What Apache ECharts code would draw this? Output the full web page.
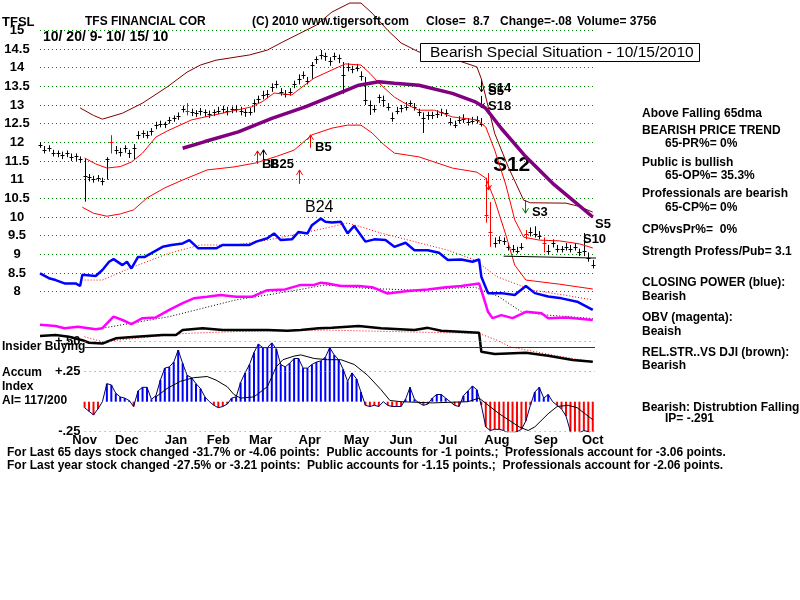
<!DOCTYPE html>
<html lang="en">
<head>
<meta charset="UTF-8">
<title>TFSL</title>
<script src="https://cdn.jsdelivr.net/npm/echarts@6/dist/echarts.min.js"></script>
<style>
  html, body { margin: 0; padding: 0; background: #fff; }
  #container { width: 800px; height: 600px; }
</style>
</head>
<body>
<div id="container"></div>
<script>
// x = trading day index, 0 = 10/20/2009 ... 249 = 10/15/2010
// price bars sampled every 2nd trading day (d = 0, 2, 4 ... 248)
var closes = [
  11.93, 11.80, 11.85, 11.72, 11.70, 11.65, 11.70, 11.60, 11.62, 11.55,
  11.10, 11.08, 11.02, 11.05, 10.95, 11.55, 12.00, 11.80, 11.75, 11.85,
  11.70, 11.85, 12.20, 12.25, 12.20, 12.30, 12.45, 12.50, 12.48, 12.60,
  12.65, 12.70, 12.90, 12.85, 12.80, 12.78, 12.85, 12.80, 12.75, 12.80,
  12.85, 12.90, 12.85, 12.88, 12.90, 12.85, 12.80, 12.82, 13.05, 13.15,
  13.27, 13.30, 13.48, 13.55, 13.35, 13.30, 13.35, 13.55, 13.70, 13.80,
  13.65, 14.07, 14.22, 14.35, 14.30, 14.18, 14.32, 14.25, 13.80, 14.02,
  13.95, 14.00, 13.78, 13.13, 13.00, 12.90, 13.20, 13.12, 12.95, 12.65,
  12.85, 12.92, 12.95, 13.05, 12.95, 12.80, 12.65, 12.72, 12.73, 12.76,
  12.80, 12.78, 12.55, 12.46, 12.60, 12.62, 12.55, 12.58, 12.60, 12.50,
  10.05, 9.60, 9.30, 9.38, 9.35, 9.20, 9.15, 9.10, 9.20, 9.55,
  9.60, 9.55, 9.50, 9.30, 9.10, 9.30, 9.15, 9.15, 9.20, 9.15,
  9.20, 9.05, 9.10, 8.90, 8.70
];
var highs = [
  12.00, 11.90, 11.92, 11.80, 11.78, 11.75, 11.78, 11.70, 11.70, 11.62,
  11.55, 11.15, 11.10, 11.12, 11.05, 11.60, 12.19, 11.90, 11.85, 11.92,
  11.80, 11.95, 12.30, 12.32, 12.30, 12.38, 12.55, 12.58, 12.55, 12.68,
  12.72, 12.80, 12.98, 13.05, 12.90, 12.86, 12.92, 12.88, 12.85, 12.88,
  12.95, 12.98, 12.95, 12.96, 13.00, 12.95, 12.90, 12.92, 13.15, 13.25,
  13.38, 13.40, 13.58, 13.65, 13.45, 13.40, 13.45, 13.65, 13.82, 13.90,
  13.75, 14.15, 14.30, 14.47, 14.40, 14.28, 14.40, 14.35, 14.15, 14.12,
  14.05, 14.10, 13.90, 13.75, 13.12, 13.00, 13.28, 13.25, 13.05, 12.80,
  12.95, 13.00, 13.08, 13.12, 13.05, 12.90, 12.80, 12.82, 12.82, 12.86,
  12.90, 12.88, 12.65, 12.58, 12.70, 12.75, 12.65, 12.68, 12.70, 12.65,
  11.05, 10.40, 9.45, 9.48, 9.45, 9.30, 9.25, 9.20, 9.30, 9.65,
  9.72, 9.75, 9.62, 9.45, 9.25, 9.40, 9.25, 9.22, 9.30, 9.25,
  9.30, 9.15, 9.57, 9.05, 8.85
];
var lows = [
  11.85, 11.70, 11.75, 11.62, 11.60, 11.55, 11.60, 11.50, 11.50, 11.45,
  10.41, 10.95, 10.92, 10.95, 10.85, 11.00, 11.70, 11.68, 11.62, 11.72,
  11.58, 11.55, 12.08, 12.12, 12.10, 12.18, 12.35, 12.40, 12.38, 12.50,
  12.55, 12.60, 12.80, 12.72, 12.70, 12.68, 12.72, 12.68, 12.65, 12.70,
  12.75, 12.78, 12.72, 12.78, 12.80, 12.72, 12.68, 12.72, 12.80, 13.05,
  13.15, 13.18, 13.35, 13.45, 13.25, 13.20, 13.25, 13.45, 13.55, 13.70,
  13.55, 13.70, 14.10, 14.22, 14.18, 14.05, 14.20, 14.12, 13.30, 13.90,
  13.85, 13.90, 13.65, 13.00, 12.73, 12.80, 13.05, 12.95, 12.85, 12.55,
  12.75, 12.80, 12.85, 12.95, 12.85, 12.70, 12.25, 12.60, 12.62, 12.65,
  12.70, 12.68, 12.45, 12.38, 12.50, 12.52, 12.45, 12.48, 12.50, 12.42,
  9.85, 9.20, 9.18, 9.28, 9.25, 9.10, 9.05, 9.02, 9.12, 9.40,
  9.48, 9.45, 9.40, 9.05, 9.00, 9.18, 9.05, 9.05, 9.10, 9.05,
  9.10, 8.95, 8.95, 8.80, 8.62
];
var redBarDays = [32, 66, 200, 202, 218, 226];

// bands and moving averages, [day, price]
var upperBand = [[18,12.92],[24,12.72],[28,12.62],[37,12.78],[46,13.05],[57,13.48],[66,13.88],[72,14.07],[79,14.2],[94,14.34],[102,14.47],[109,14.69],[117,14.93],[124,15.14],[131,15.49],[139,15.73],[144,15.73],[149,15.46],[156,15.0],[162,14.66],[170,14.42],[184,14.26],[196,14.02],[198,13.7],[204,12.24],[210,11.35],[217,10.45],[220,10.38],[236,10.37],[242,10.28],[248,10.13]];
var ma21 = [[20,11.58],[25,11.42],[30,11.31],[36,11.35],[41,11.47],[46,11.71],[52,12.14],[57,12.3],[61,12.41],[68,12.6],[78,12.73],[95,12.95],[100,13.1],[105,13.32],[113,13.27],[118,13.5],[123,13.72],[134,14.02],[137,14.1],[144,14.07],[148,13.85],[152,13.59],[159,13.21],[165,13.0],[170,12.86],[177,12.86],[185,12.68],[196,12.6],[200,12.41],[204,11.79],[209,10.86],[213,9.92],[217,9.46],[224,9.38],[233,9.36],[242,9.28],[248,9.17]];
var lowerBand = [[19,10.26],[24,10.1],[30,10.02],[36,10.08],[42,10.19],[48,10.51],[56,10.78],[64,10.99],[75,11.26],[87,11.34],[97,11.45],[106,11.62],[114,11.79],[122,12.2],[131,12.38],[138,12.46],[144,12.46],[149,12.25],[154,11.95],[159,11.71],[170,11.61],[185,11.31],[196,11.2],[200,11.04],[204,10.45],[209,9.52],[213,8.71],[218,8.31],[233,8.2],[248,8.07]];
var ma65 = [[64,11.84],[74,12.02],[89,12.28],[104,12.64],[119,12.95],[134,13.31],[143,13.53],[152,13.62],[159,13.58],[170,13.53],[185,13.31],[195,13.09],[200,12.91],[207,12.37],[218,11.61],[230,10.9],[239,10.45],[248,10.0]];
var supportLine = [[208,8.95],[274,8.87]];

// indicator lines, drawn on the price scale (unlabelled below 8)
var closingPower = [[0,8.49],[4,8.36],[7,8.31],[11,8.22],[16,8.22],[18,8.15],[19,8.45],[25,8.42],[28,8.58],[31,8.8],[33,8.87],[37,8.71],[39,8.8],[41,8.62],[44,8.93],[47,8.93],[50,9.03],[55,9.2],[59,9.25],[64,9.29],[67,9.38],[71,9.16],[79,9.16],[82,9.25],[94,9.25],[97,9.34],[102,9.43],[105,9.56],[108,9.38],[113,9.4],[116,9.6],[120,9.56],[122,9.78],[126,9.96],[128,9.87],[131,9.85],[135,9.87],[138,9.56],[141,9.76],[146,9.34],[150,9.4],[155,9.38],[159,9.2],[164,9.31],[168,9.11],[174,9.11],[179,9.04],[183,8.85],[189,8.86],[194,8.8],[197,8.86],[198,8.4],[201,7.96],[207,7.96],[213,7.91],[218,8.15],[222,7.96],[228,7.87],[234,7.82],[241,7.73],[248,7.51]];
var closingPowerMa = [[20,8.31],[28,8.31],[40,8.62],[58,9.03],[72,9.25],[88,9.25],[102,9.38],[117,9.56],[128,9.7],[138,9.84],[153,9.57],[168,9.34],[183,9.11],[195,8.85],[205,8.4],[221,8.04],[235,7.91],[248,7.78]];
var obv = [[0,7.11],[7,7.08],[11,7.02],[17,7.06],[25,6.99],[28,7.02],[33,7.33],[37,7.24],[41,7.13],[46,7.29],[52,7.31],[58,7.51],[64,7.69],[69,7.82],[75,7.86],[81,7.91],[88,7.86],[95,7.86],[102,8.04],[110,8.06],[117,8.18],[123,8.18],[126,8.24],[129,8.22],[135,8.15],[143,8.15],[149,8.12],[156,7.95],[165,8.02],[174,8.06],[182,8.12],[189,8.15],[197,8.22],[198,8.04],[201,7.46],[203,7.29],[207,7.37],[212,7.29],[218,7.46],[225,7.42],[228,7.29],[236,7.31],[248,7.24]];
var obvMa = [[28,7.02],[58,7.33],[88,7.78],[102,7.91],[117,8.06],[128,8.18],[146,8.09],[168,8.04],[195,8.12],[206,7.86],[216,7.46],[228,7.37],[248,7.28]];
var relStrength = [[0,6.81],[7,6.84],[13,6.79],[19,6.7],[22,6.63],[28,6.61],[34,6.75],[43,6.79],[55,6.84],[61,6.84],[64,6.97],[73,7.02],[82,6.97],[94,6.97],[102,6.97],[111,6.95],[117,6.97],[125,7.02],[131,7.03],[143,7.08],[153,7.02],[168,6.97],[174,7.03],[180,6.95],[197,6.9],[198,6.39],[204,6.33],[218,6.36],[228,6.28],[239,6.17],[248,6.12]];
var relStrengthMa = [[20,6.79],[28,6.66],[43,6.75],[65,6.88],[88,6.93],[128,6.97],[197,6.88],[205,6.7],[211,6.52],[230,6.3],[248,6.12]];

// accumulation index, every 2nd day from d = 20
var accumIndex = [
  -0.05, -0.08, -0.11, -0.06, 0.00, 0.15, 0.14, 0.07, 0.04, 0.03,
  0.01, -0.04, 0.09, 0.12, 0.12, 0.02, 0.05, 0.18, 0.28, 0.29,
  0.33, 0.43, 0.32, 0.22, 0.20, 0.15, 0.11, 0.04, 0.00, -0.03,
  -0.05, -0.04, -0.02, 0.03, 0.04, 0.16, 0.24, 0.31, 0.41, 0.48,
  0.45, 0.45, 0.49, 0.44, 0.31, 0.29, 0.32, 0.36, 0.36, 0.28,
  0.28, 0.31, 0.33, 0.34, 0.37, 0.45, 0.39, 0.35, 0.27, 0.17,
  0.24, 0.19, 0.08, -0.03, -0.04, -0.03, -0.04, 0.00, -0.03, -0.04,
  -0.04, -0.04, 0.02, 0.12, 0.02, -0.01, -0.03, -0.02, 0.03, 0.06,
  0.06, 0.03, 0.00, -0.03, -0.04, 0.05, 0.09, 0.13, 0.10, -0.03,
  -0.21, -0.24, -0.23, -0.23, -0.24, -0.26, -0.26, -0.25, -0.23, -0.16,
  -0.03, 0.08, 0.12, 0.03, 0.06, 0.00, -0.03, -0.06, -0.12, -0.25,
  -0.29, -0.26, -0.24, -0.25, -0.28
];
var accumIndexMa = [[52,0.04],[57,0.11],[63,0.17],[69,0.2],[75,0.21],[79,0.18],[84,0.125],[87,0.06],[90,0.03],[96,0.04],[102,0.125],[106,0.29],[109,0.35],[114,0.38],[117,0.39],[123,0.36],[129,0.35],[135,0.35],[141,0.31],[147,0.22],[153,0.1],[157,0.01],[162,0.0],[176,-0.01],[192,0.0],[197,0.03],[206,-0.1],[215,-0.21],[219,-0.24],[222,-0.21],[228,-0.1],[232,-0.04],[237,-0.03],[241,-0.05],[248,-0.15]];
var insiderLevel = 0.45;

// month labels (day index of label centre)
var monthDays = [20, 39, 61, 80, 99, 121, 142, 162, 183, 205, 227, 248];
var monthNames = ['Nov', 'Dec', 'Jan', 'Feb', 'Mar', 'Apr', 'May', 'Jun', 'Jul', 'Aug', 'Sep', 'Oct'];

// signal arrows: [day, tip price, dir (1 up / -1 down), length px]
var arrows = [[97.4,11.77,1,13],[100,11.8,1,11],[121,12.2,1,13],[116,11.26,1,14],[198,13.35,-1,12],[198,12.92,-1,12],[201,10.72,-1,17],[217.6,10.1,-1,13]];
var arrowColors = ['#ff0000','#000000','#ff0000','#ff0000','#000000','#000000','#ff0000','#008000'];
// signal labels: [name, day, price, fontSize, bold]
var signals = [
  ['B24', 118.9, 10.24, 16, false],
  ['B5', 123.4, 11.86, 13, true],
  ['B8', 99.6, 11.42, 13, true],
  ['B25', 103.2, 11.42, 13, true],
  ['S14', 201, 13.45, 13, true],
  ['S5', 201, 13.36, 13, true],
  ['S18', 201, 12.96, 13, true],
  ['S12', 203.2, 11.39, 21, true],
  ['S3', 220.7, 10.11, 13, true],
  ['S5', 249, 9.81, 13, true],
  ['S10', 243.6, 9.41, 13, true]
];

var FONT = '"Liberation Sans", Arial, sans-serif';
var DX = 555 / 249;

var priceData = closes.map(function (c, i) { return [i * 2, lows[i], highs[i], c]; });
var aiData = accumIndex.map(function (v, i) { return [20 + i * 2, v]; });

function renderBar(params, api) {
  var d = api.value(0);
  var lo = api.coord([d, api.value(1)]);
  var hi = api.coord([d, api.value(2)]);
  var cl = api.coord([d, api.value(3)]);
  var col = redBarDays.indexOf(d) >= 0 ? '#ff0000' : '#000000';
  var x = Math.round(hi[0]) + 0.5;
  var yc = Math.round(cl[1]) + 0.5;
  return {
    type: 'group',
    children: [
      { type: 'line', shape: { x1: x, y1: hi[1], x2: x, y2: lo[1] }, style: { stroke: col, lineWidth: 1 } },
      { type: 'line', shape: { x1: x - 2, y1: yc, x2: x + 2, y2: yc }, style: { stroke: col, lineWidth: 1 } }
    ]
  };
}

function renderArrow(params, api) {
  var p = api.coord([api.value(0), api.value(1)]);
  var dir = api.value(2);
  var len = api.value(3);
  var col = arrowColors[params.dataIndex];
  var x = Math.round(p[0]) + 0.5, y = p[1];
  var h = dir * 5;
  return {
    type: 'group',
    children: [
      { type: 'line', shape: { x1: x, y1: y, x2: x, y2: y + dir * len }, style: { stroke: col, lineWidth: 1 } },
      { type: 'polyline', shape: { points: [[x - 3, y + h], [x, y], [x + 3, y + h]] }, style: { stroke: col, fill: null, lineWidth: 1 } }
    ]
  };
}

function line(data, color, width, type, extra) {
  var s = {
    type: 'line', xAxisIndex: 1, yAxisIndex: 1, data: data,
    symbol: 'none', showSymbol: false, silent: true,
    lineStyle: { color: color, width: width, type: type || 'solid' }
  };
  for (var k in extra) s[k] = extra[k];
  return s;
}

function txt(x, y, s, size, weight, color) {
  return {
    type: 'text', x: x, y: y, silent: true,
    style: {
      text: s, fill: color || '#000',
      font: (weight || 'bold') + ' ' + (size || 12) + 'px ' + FONT,
      verticalAlign: 'middle', textVerticalAlign: 'middle'
    }
  };
}

var rightPanel = [
  [642, 114, 'Above Falling 65dma'],
  [642, 131, 'BEARISH PRICE TREND'],
  [665, 144, '65-PR%= 0%'],
  [642, 163, 'Public is bullish'],
  [665, 176, '65-OP%= 35.3%'],
  [642, 194, 'Professionals are bearish'],
  [665, 208, '65-CP%= 0%'],
  [642, 230, 'CP%vsPr%=  0%'],
  [642, 252, 'Strength Profess/Pub= 3.1'],
  [642, 283, 'CLOSING POWER (blue):'],
  [642, 297, 'Bearish'],
  [642, 318, 'OBV (magenta):'],
  [642, 332, 'Beaish'],
  [642, 353, 'REL.STR..VS DJI (brown):'],
  [642, 366, 'Bearish'],
  [642, 408, 'Bearish: Distrubtion Falling.'],
  [665, 419, 'IP= -.291']
];

var graphics = [
  txt(2, 22, 'TFSL', 13),
  txt(85, 22, 'TFS FINANCIAL COR', 12),
  txt(252, 22, '(C) 2010 www.tigersoft.com', 12),
  txt(426, 22, 'Close=', 12),
  txt(473, 22, '8.7', 12),
  txt(500, 22, 'Change=-.08', 12),
  txt(577, 22, 'Volume= 3756', 12),
  txt(43, 37, '10/ 20/ 9- 10/ 15/ 10', 14),
  { type: 'rect', shape: { x: 420.5, y: 43.5, width: 279, height: 18 }, style: { fill: '#fff', stroke: '#000', lineWidth: 1 }, z: 10 },
  txt(430, 53, 'Bearish Special Situation - 10/15/2010', 15.5, 'normal'),
  txt(2, 347, 'Insider Buying', 12),
  txt(2, 373, 'Accum', 12),
  txt(2, 387, 'Index', 12),
  txt(2, 401, 'AI= 117/200', 12),
  txt(7, 453, 'For Last 65 days stock changed -31.7% or -4.06 points:  Public accounts for -1 points.;  Professionals account for -3.06 points.', 12),
  txt(7, 466, 'For Last year stock changed -27.5% or -3.21 points:  Public accounts for -1.15 points.;  Professionals account for -2.06 points.', 12)
];
rightPanel.forEach(function (r) { graphics.push(txt(r[0], r[1], r[2], 12)); });
graphics.forEach(function (g) { if (g.type === 'text') g.z = 20; });

var myChart = echarts.init(document.getElementById('container'));
var option = {
  animation: false,
  backgroundColor: '#fff',
  textStyle: { fontFamily: FONT },
  grid: [
    { left: 40, width: 555, top: 30.3, height: 261.3 },
    { left: 40, width: 555, top: 30.3, height: 336 },
    { left: 40 + 20 * DX, width: 555 - 20 * DX, top: 341.7, height: 90 }
  ],
  xAxis: [
    { type: 'value', gridIndex: 0, min: 0, max: 249, show: false },
    { type: 'value', gridIndex: 1, min: 0, max: 249, show: false },
    {
      type: 'value', gridIndex: 2, min: 20, max: 249,
      axisLine: { show: false }, axisTick: { show: false }, splitLine: { show: false },
      axisLabel: {
        customValues: monthDays, margin: 2,
        fontSize: 13, fontWeight: 'bold', color: '#000', fontFamily: FONT,
        formatter: function (v) { var i = monthDays.indexOf(v); return i >= 0 ? monthNames[i] : ''; }
      }
    }
  ],
  yAxis: [
    {
      type: 'value', gridIndex: 0, min: 8, max: 15, interval: 0.5,
      axisLine: { show: false }, axisTick: { show: false },
      axisLabel: { align: 'center', margin: 23, fontSize: 13, fontWeight: 'bold', color: '#000', fontFamily: FONT },
      splitLine: { lineStyle: { color: '#008000', type: [1, 3], width: 1 } }
    },
    { type: 'value', gridIndex: 1, min: 6, max: 15, show: false },
    {
      type: 'value', gridIndex: 2, min: -0.25, max: 0.5, interval: 0.25,
      axisLine: { show: false }, axisTick: { show: false }, splitLine: { show: false },
      axisLabel: {
        align: 'right', margin: 4, fontSize: 13, fontWeight: 'bold', color: '#000', fontFamily: FONT,
        formatter: function (v) { return v > 0.4 ? '+.50' : v > 0.1 ? '+.25' : v < -0.1 ? '-.25' : ''; }
      }
    }
  ],
  graphic: graphics,
  series: [
    line(upperBand, '#800000', 1, 'solid', { clip: false }),
    line(ma21, '#ff0000', 1),
    line(lowerBand, '#ff0000', 1),
    line(closingPowerMa, '#ff0000', 1, [1, 2]),
    line(obvMa, '#000000', 1, [1, 2]),
    line(relStrengthMa, '#ff0000', 1, [1, 2]),
    line(closingPower, '#0000ff', 2.5),
    line(obv, '#ff00ff', 2.5),
    line(relStrength, '#000000', 2.5),
    line(supportLine, '#000000', 1, 'solid', { clip: false }),
    {
      type: 'custom', xAxisIndex: 0, yAxisIndex: 0, data: priceData,
      renderItem: renderBar, encode: { x: 0, y: [1, 2, 3] }, silent: true
    },
    line(ma65, '#800080', 3.5),
    {
      type: 'custom', xAxisIndex: 0, yAxisIndex: 0, data: arrows,
      renderItem: renderArrow, encode: { x: 0, y: 1 }, silent: true, clip: false
    },
    {
      type: 'scatter', xAxisIndex: 0, yAxisIndex: 0, symbolSize: 0, silent: true,
      itemStyle: { opacity: 1 },
      data: signals.map(function (s) {
        return {
          name: s[0], value: [s[1], s[2]],
          label: { fontSize: s[3], fontWeight: s[4] ? 'bold' : 'normal', color: '#000', opacity: 1 }
        };
      }),
      label: { show: true, position: 'right', distance: 0, formatter: '{b}', color: '#000', opacity: 1, fontFamily: FONT }
    },
    {
      type: 'bar', xAxisIndex: 2, yAxisIndex: 2, data: aiData, barWidth: 2, silent: true,
      itemStyle: { color: function (p) { return p.value[1] >= 0 ? '#0000ff' : '#ff0000'; } },
      markLine: {
        silent: true, symbol: 'none', label: { show: false },
        data: [
          { yAxis: 0.5, lineStyle: { color: '#808080', type: [1, 4], width: 1 } },
          { yAxis: 0.25, lineStyle: { color: '#808080', type: [1, 4], width: 1 } },
          { yAxis: -0.25, lineStyle: { color: '#ff6060', type: [1, 4], width: 1 } },
          { yAxis: insiderLevel, lineStyle: { color: '#800080', type: 'solid', width: 1 } }
        ]
      }
    },
    {
      type: 'line', xAxisIndex: 2, yAxisIndex: 2, data: aiData, symbol: 'none', silent: true,
      lineStyle: { color: '#000060', width: 1 }
    },
    {
      type: 'line', xAxisIndex: 2, yAxisIndex: 2, data: accumIndexMa, symbol: 'none', silent: true,
      lineStyle: { color: '#000000', width: 1 }
    }
  ]
};
myChart.setOption(option);
</script>
</body>
</html>
